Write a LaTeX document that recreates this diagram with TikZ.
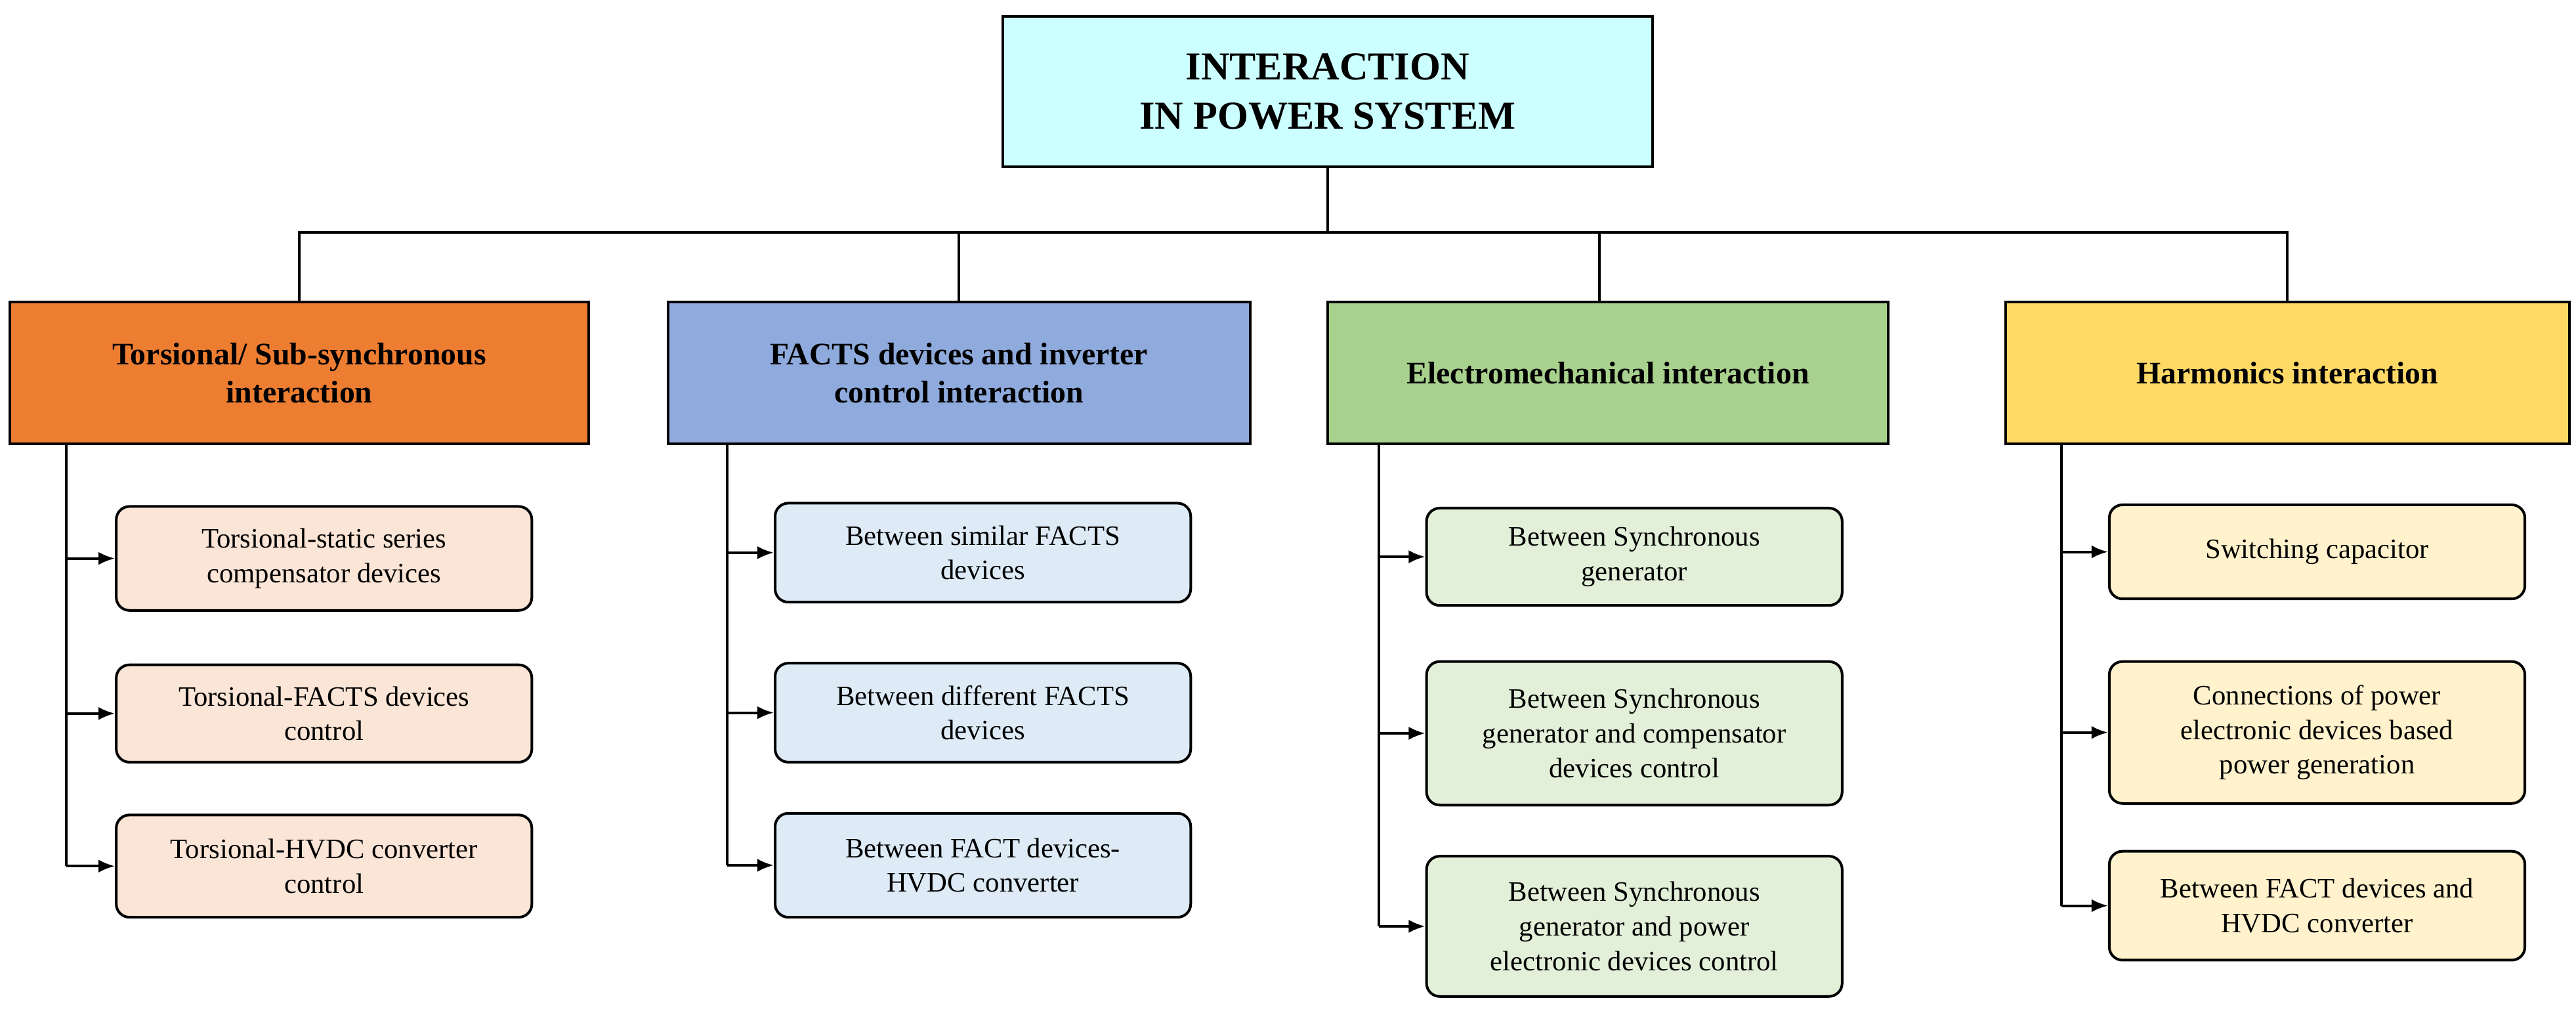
\documentclass[tikz,border=0pt]{standalone}
\usepackage{fontspec}
\setmainfont{Liberation Serif}
\usetikzlibrary{arrows.meta}
\definecolor{c1}{HTML}{ED7D31}\definecolor{c2}{HTML}{8FAADC}
\definecolor{c3}{HTML}{A9D18E}\definecolor{c4}{HTML}{FFD966}
\definecolor{l1}{HTML}{FBE5D6}\definecolor{l2}{HTML}{DEEBF7}
\definecolor{l3}{HTML}{E2F0D9}\definecolor{l4}{HTML}{FFF2CC}
\definecolor{top}{HTML}{CCFFFF}
\begin{document}
\begin{tikzpicture}[x=1pt,y=-1pt,
 cat/.style={draw,line width=1.6pt,minimum height=86pt,align=center,font=\fontsize{19}{23}\selectfont\bfseries,inner sep=2pt},
 ch/.style={draw,line width=1.6pt,rounded corners=8pt,minimum width=252pt,align=center,font=\fontsize{17}{21}\selectfont,inner sep=2pt},
 ln/.style={line width=1.6pt},
 arr/.style={line width=1.6pt,-{Latex[length=10pt,width=8pt]}}]
\useasboundingbox (0,0) rectangle (1562,614);
\node[draw,line width=1.6pt,fill=top,minimum width=394pt,minimum height=91pt,align=center,font=\fontsize{24}{30}\selectfont\bfseries] (t) at (805,55.5) {INTERACTION\\IN POWER SYSTEM};
\node[cat,fill=c1,minimum width=351pt] (k1) at (181.5,226) {Torsional/ Sub-synchronous\\interaction};
\node[cat,fill=c2,minimum width=353pt] (k2) at (581.5,226) {FACTS devices and inverter\\control interaction};
\node[cat,fill=c3,minimum width=340pt] (k3) at (975,226) {Electromechanical interaction};
\node[cat,fill=c4,minimum width=342pt] (k4) at (1387,226) {Harmonics interaction};
\coordinate (j) at (805,141);
\draw[ln] (t.south) -- (j);
\draw[ln] (k1.north) |- (j) -| (k4.north);
\draw[ln] (k2.north) -- (k2.north |- j);
\draw[ln] (k3.north -| 970,0) -- (970,141);
% children
\node[ch,fill=l1,minimum height=63pt] (a1) at (196.5,338.5) {Torsional-static series\\compensator devices};
\node[ch,fill=l1,minimum height=59pt] (a2) at (196.5,432.5) {Torsional-FACTS devices\\control};
\node[ch,fill=l1,minimum height=62pt] (a3) at (196.5,525) {Torsional-HVDC converter\\control};
\node[ch,fill=l2,minimum height=60pt] (b1) at (596,335) {Between similar FACTS\\devices};
\node[ch,fill=l2,minimum height=60pt] (b2) at (596,432) {Between different FACTS\\devices};
\node[ch,fill=l2,minimum height=63pt] (b3) at (596,524.5) {Between FACT devices-\\HVDC converter};
\node[ch,fill=l3,minimum height=59pt] (e1) at (991,337.5) {Between Synchronous\\generator};
\node[ch,fill=l3,minimum height=87pt] (e2) at (991,444.5) {Between Synchronous\\generator and compensator\\devices control};
\node[ch,fill=l3,minimum height=85pt] (e3) at (991,561.5) {Between Synchronous\\generator and power\\electronic devices control};
\node[ch,fill=l4,minimum height=57pt] (h1) at (1405,334.5) {Switching capacitor};
\node[ch,fill=l4,minimum height=86pt] (h2) at (1405,444) {Connections of power\\electronic devices based\\power generation};
\node[ch,fill=l4,minimum height=66pt] (h3) at (1405,549) {Between FACT devices and\\HVDC converter};
\foreach \k/\x/\a/\b/\c in {k1/40/a1/a2/a3,k2/441/b1/b2/b3,k3/836/e1/e2/e3,k4/1250/h1/h2/h3}{
 \coordinate (\k t) at (\x,269);
 \draw[ln] (\k t) -- (\x,0 |- \c.west);
 \foreach \n in {\a,\b,\c} \draw[arr] (\n.west -| \k t) -- (\n.west);
}
\end{tikzpicture}
\end{document}
